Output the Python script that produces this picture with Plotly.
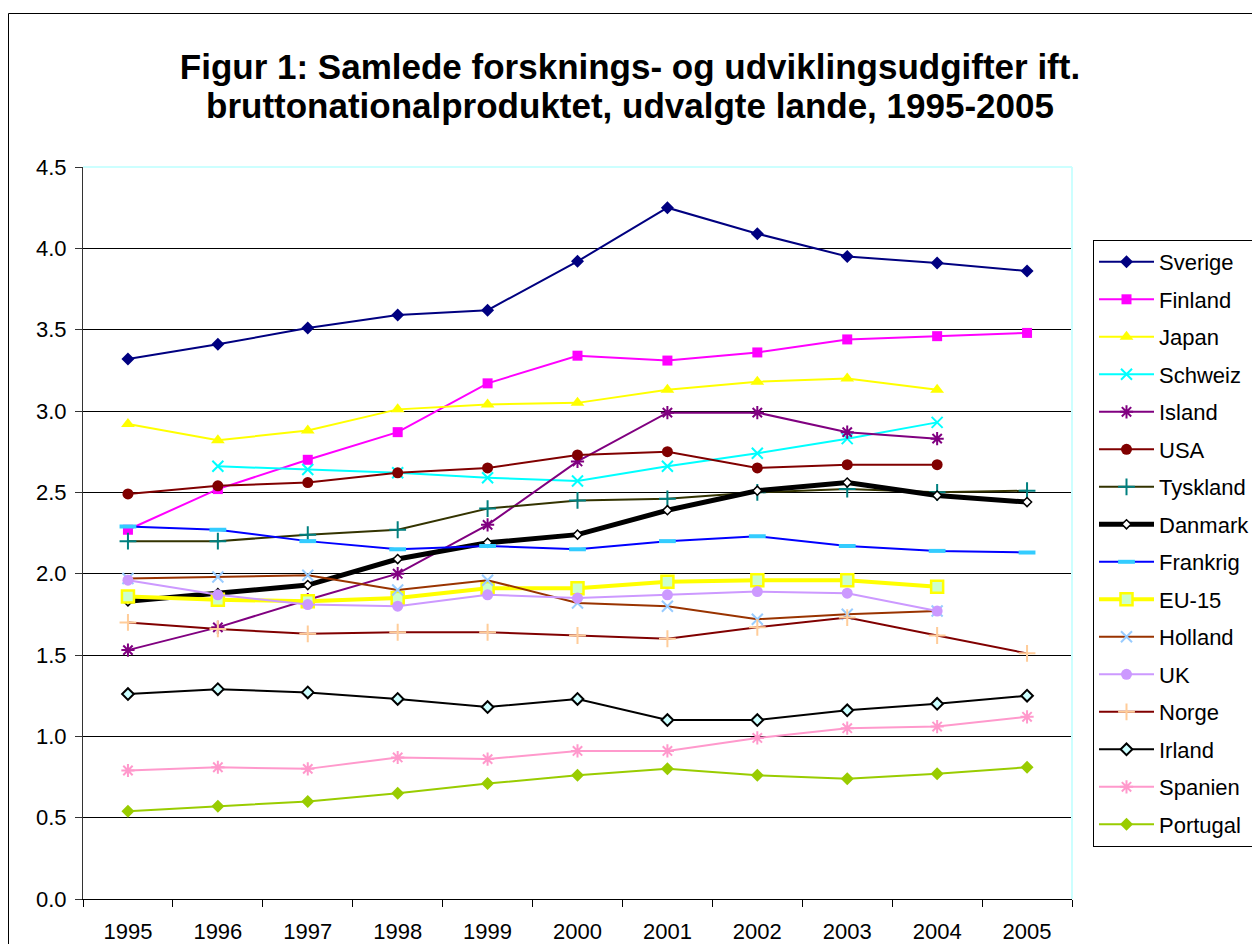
import plotly.graph_objects as go

years = ["1995", "1996", "1997", "1998", "1999", "2000", "2001", "2002", "2003", "2004", "2005"]

sverige  = [3.32, 3.41, 3.51, 3.59, 3.62, 3.92, 4.25, 4.09, 3.95, 3.91, 3.86]
finland  = [2.27, 2.52, 2.70, 2.87, 3.17, 3.34, 3.31, 3.36, 3.44, 3.46, 3.48]
japan    = [2.92, 2.82, 2.88, 3.01, 3.04, 3.05, 3.13, 3.18, 3.20, 3.13, None]
schweiz  = [None, 2.66, 2.64, 2.62, 2.59, 2.57, 2.66, 2.74, 2.83, 2.93, None]
island   = [1.53, 1.67, 1.84, 2.00, 2.30, 2.69, 2.99, 2.99, 2.87, 2.83, None]
usa      = [2.49, 2.54, 2.56, 2.62, 2.65, 2.73, 2.75, 2.65, 2.67, 2.67, None]
tyskland = [2.20, 2.20, 2.24, 2.27, 2.40, 2.45, 2.46, 2.50, 2.52, 2.50, 2.51]
danmark  = [1.83, 1.88, 1.93, 2.09, 2.19, 2.24, 2.39, 2.51, 2.56, 2.48, 2.44]
frankrig = [2.29, 2.27, 2.20, 2.15, 2.17, 2.15, 2.20, 2.23, 2.17, 2.14, 2.13]
eu15     = [1.86, 1.84, 1.83, 1.85, 1.91, 1.91, 1.95, 1.96, 1.96, 1.92, None]
holland  = [1.97, 1.98, 1.99, 1.90, 1.96, 1.82, 1.80, 1.72, 1.75, 1.77, None]
uk       = [1.96, 1.87, 1.81, 1.80, 1.87, 1.85, 1.87, 1.89, 1.88, 1.77, None]
norge    = [1.70, 1.66, 1.63, 1.64, 1.64, 1.62, 1.60, 1.67, 1.73, 1.62, 1.51]
irland   = [1.26, 1.29, 1.27, 1.23, 1.18, 1.23, 1.10, 1.10, 1.16, 1.20, 1.25]
spanien  = [0.79, 0.81, 0.80, 0.87, 0.86, 0.91, 0.91, 0.99, 1.05, 1.06, 1.12]
portugal = [0.54, 0.57, 0.60, 0.65, 0.71, 0.76, 0.80, 0.76, 0.74, 0.77, 0.81]

y_ticks = [0.0, 0.5, 1.0, 1.5, 2.0, 2.5, 3.0, 3.5, 4.0, 4.5]
y_labels = ["0.0", "0.5", "1.0", "1.5", "2.0", "2.5", "3.0", "3.5", "4.0", "4.5"]

title_line1 = "Figur 1: Samlede forsknings- og udviklingsudgifter ift."
title_line2 = "bruttonationalproduktet, udvalgte lande, 1995-2005"

FONT = "Liberation Sans, Arial, sans-serif"

# name, values, line colour, line width, symbol, size, marker fill, marker line colour, marker line width
series = [
    ("Sverige",  sverige,  "#000080", 2, "diamond",     10, "#000080", "#000080", 0),
    ("Finland",  finland,  "#FF00FF", 2, "square",      10, "#FF00FF", "#FF00FF", 0),
    ("Japan",    japan,    "#FFFF00", 2, "triangle-up", 12, "#FFFF00", "#FFFF00", 0),
    ("Schweiz",  schweiz,  "#00FFFF", 2, "x-thin",      11, "#00FFFF", "#00FFFF", 2),
    ("Island",   island,   "#800080", 2, "asterisk",    11, "#800080", "#800080", 2),
    ("USA",      usa,      "#800000", 2, "circle",      11, "#800000", "#800000", 0),
    ("Tyskland", tyskland, "#333300", 2, "cross-thin",  12, "#008080", "#008080", 2),
    ("Danmark",  danmark,  "#000000", 5, "diamond",     7,  "#FFFFFF", "#000000", 1.5),
    ("Frankrig", frankrig, "#0000FF", 2, "line-ew",     12, "#33CCFF", "#33CCFF", 4),
    ("EU-15",    eu15,     "#FFFF00", 4, "square",      12, "#CCFFCC", "#FFFF00", 2.5),
    ("Holland",  holland,  "#993300", 2, "x-thin",      11, "#99CCFF", "#99CCFF", 2),
    ("UK",       uk,       "#CC99FF", 2, "circle",      11, "#CC99FF", "#CC99FF", 0),
    ("Norge",    norge,    "#800000", 2, "cross-thin",  12, "#FFCC99", "#FFCC99", 2),
    ("Irland",   irland,   "#000000", 2, "diamond",     9,  "#CCFFFF", "#000000", 2),
    ("Spanien",  spanien,  "#FF99CC", 2, "asterisk",    11, "#FF99CC", "#FF99CC", 2),
    ("Portugal", portugal, "#99CC00", 2, "diamond",     10, "#99CC00", "#99CC00", 0),
]

fig = go.Figure()
for name, vals, lc, lw, sym, size, mfill, mline, mlw in series:
    fig.add_trace(go.Scatter(
        x=years, y=vals, name=name, mode="lines+markers",
        legendgroup=name,
        line=dict(color=lc, width=lw),
        marker=dict(symbol=sym, size=size, color=mfill,
                    line=dict(color=mline, width=mlw)),
        connectgaps=False,
    ))

# page has an 8px body margin; figure coordinates = page coordinates - 8
OFF = 8
FW, FH = 1260 - 2 * OFF, 952 - 2 * OFF
L, R, T, B = 83 - OFF, 1072 - OFF, 167 - OFF, 899 - OFF
W, H = R - L, B - T
def px(x):
    return (x - OFF - L) / W
def py(y):
    return (B - (y - OFF)) / H

fig.update_layout(
    width=FW, height=FH,
    margin=dict(l=L, r=FW - R, t=T, b=FH - B, pad=0, autoexpand=False),
    paper_bgcolor="white", plot_bgcolor="white",
    font=dict(family=FONT, color="black", size=22),
    title=dict(text=title_line1, x=0.5, xanchor="center", y=1 - (67 - OFF) / FH,
               yanchor="middle", xref="container", yref="container",
               font=dict(family=FONT, size=35, color="black", weight="bold")),
    annotations=[
        dict(text=title_line2, xref="paper", yref="paper",
             x=px(630), y=py(105), xanchor="center", yanchor="middle",
             showarrow=False,
             font=dict(family=FONT, size=35, color="black", weight="bold")),
    ],
    showlegend=True,
    legend=dict(x=px(1093), y=py(240), xanchor="left", yanchor="top",
                bordercolor="black", borderwidth=1, bgcolor="white",
                font=dict(family=FONT, size=22, color="black"),
                tracegroupgap=5.9, itemwidth=55, traceorder="grouped"),
    xaxis=dict(type="category", showgrid=False, showline=True, linecolor="black",
               linewidth=1, ticks="outside", ticklen=7, tickcolor="black",
               tickson="boundaries", ticklabelstandoff=13,
               tickfont=dict(family=FONT, size=22, color="black"),
               range=[-0.5, 10.5], fixedrange=True),
    yaxis=dict(range=[0, 4.5], tickvals=y_ticks, ticktext=y_labels,
               showgrid=True, gridcolor="black", gridwidth=1,
               showline=True, linecolor="#333333", linewidth=1,
               ticks="outside", ticklen=7, tickcolor="#333333",
               zeroline=False, ticklabelstandoff=4,
               tickfont=dict(family=FONT, size=22, color="black")),
    shapes=[
        # light cyan top and right borders of plot area
        dict(type="line", xref="paper", yref="paper", x0=0, x1=1, y0=1, y1=1,
             line=dict(color="#CCFFFF", width=2), layer="above"),
        dict(type="line", xref="paper", yref="paper", x0=1, x1=1, y0=0, y1=1,
             line=dict(color="#CCFFFF", width=2), layer="above"),
        # outer chart border
        dict(type="rect", xref="paper", yref="paper",
             x0=px(8.5), x1=px(1300), y0=py(1000), y1=py(13.5),
             line=dict(color="black", width=1), fillcolor="rgba(0,0,0,0)",
             layer="below"),
    ],
)

fig.write_html("out.html")
